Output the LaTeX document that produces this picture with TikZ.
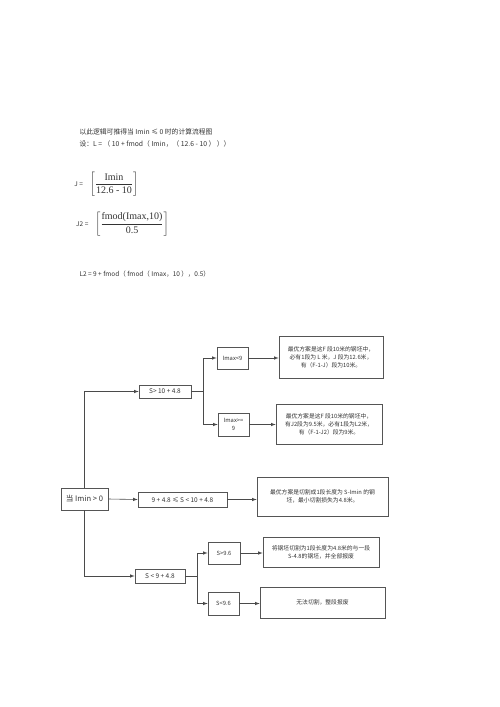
\documentclass[tikz,border=0pt]{standalone}
\usepackage{amsmath}
\usepackage{fontspec}
\setmainfont{Liberation Serif}
\newfontfamily\cjk{Noto Sans CJK SC}
\usetikzlibrary{positioning}
\definecolor{txtgray}{HTML}{333333}
\definecolor{boxgray}{HTML}{555555}
\definecolor{linegray}{HTML}{4A4A4A}

\begin{document}
\begin{tikzpicture}[x=1pt, y=-1pt,
                      every node/.style = {text=txtgray,
                        font=\cjk\fontsize{5.8}{8}\selectfont},
                      box/.style = {shape=rectangle, draw=boxgray,
                        line width=0.6pt, inner sep=1pt, align=center},
                      cond/.style = {box, font=\cjk\fontsize{6.5}{8}\selectfont},
                      link/.style = {draw=linegray, line width=0.6pt},
                      arr/.style = {link, -latex}]
                      \useasboundingbox[fill=white] (0,0) rectangle (500,707);
                      % notes above the chart
                      \node[anchor=west, font=\cjk\fontsize{6.8}{9}\selectfont] (title) at (76,132)
                        {以此逻辑可推得当 Imin ≤ 0 时的计算流程图};
                      \node[anchor=west, font=\cjk\fontsize{6.8}{9}\selectfont] (defL) at (76,144)
                        {设：L = （ 10 + fmod（ Imin，（ 12.6 - 10 ） ））};
                      \node[font=\fontsize{10}{12}\selectfont, inner sep=0pt] (Jfrac) at (114,184.5)
                        {$\left[\dfrac{\text{Imin}}{\text{12.6 - 10}}\right]$};
                      \node[left=3pt of Jfrac, font=\cjk\fontsize{6.5}{8}\selectfont] (Jlab) {J =};
                      \node[font=\fontsize{10}{12}\selectfont, inner sep=0pt] (Jtwofrac) at (132,224)
                        {$\left[\dfrac{\text{fmod(Imax,10)}}{\text{0.5}}\right]$};
                      \node[left=3pt of Jtwofrac, font=\cjk\fontsize{6.5}{8}\selectfont] (Jtwolab) {J2 =};
                      \node[anchor=west, font=\cjk\fontsize{6.5}{9}\selectfont] (defLtwo) at (76,274)
                        {L2 = 9 + fmod（ fmod（ Imax，10 ），0.5）};
                      % the chart
                      \node[cond, minimum width=47, minimum height=22,
                        font=\cjk\fontsize{7.6}{9}\selectfont] (root) at (84.5,499) {当 Imin > 0};
                      \node[cond, minimum width=52, minimum height=13] (big) at (165,391.5) {S> 10 + 4.8};
                      \node[cond, minimum width=89, minimum height=15] (mid) at (182.5,499.5) {9 + 4.8 ≤ S < 10 + 4.8};
                      \node[cond, minimum width=50, minimum height=14] (small) at (160,576) {S < 9 + 4.8};
                      \node[box, minimum width=31, minimum height=22] (maxlo) at (232.5,358) {Imax<9};
                      \node[box, minimum width=31, minimum height=23] (maxhi) at (233.5,424.5) {Imax>=\\9};
                      \node[box, minimum width=32, minimum height=22] (sixhi) at (224,553) {S>9.6};
                      \node[box, minimum width=31, minimum height=23] (sixlo) at (223.5,603.5) {S<9.6};
                      \node[box, minimum width=104, minimum height=42] (resA) at (331,357)
                        {最优方案是这F 段10米的钢坯中，\\必有1段为 L 米，J 段为12.6米，\\有（F-1-J）段为10米。};
                      \node[box, minimum width=106, minimum height=40] (resB) at (329,424)
                        {最优方案是这F 段10米的钢坯中，\\有J2段为9.5米，必有1段为L2米，\\有（F-1-J2）段为9米。};
                      \node[box, minimum width=131, minimum height=39] (resC) at (322.5,496.5)
                        {最优方案是切割成1段长度为 S-Imin 的钢\\坯，最小切割损失为4.8米。};
                      \node[box, minimum width=116, minimum height=30] (resD) at (321,552)
                        {将钢坯切割为1段长度为4.8米的与一段\\S-4.8的钢坯，并全部报废};
                      \node[box, minimum width=125, minimum height=31] (resE) at (322.5,602.5)
                        {无法切割，整段报废};
                      \coordinate (forkA) at (203,391.5);
                      \coordinate (forkB) at (197,576);
                      % connectors
                      \draw[arr] (root.north) |- (big.west);
                      \draw[arr] (root.east) -- (mid.west);
                      \draw[arr] (root.south) |- (small.west);
                      \draw[link] (big.east) -- (forkA);
                      \draw[arr] (forkA) |- (maxlo.west);
                      \draw[arr] (forkA) |- (maxhi.west);
                      \draw[link] (small.east) -- (forkB);
                      \draw[arr] (forkB) |- (sixhi.west);
                      \draw[arr] (forkB) |- (sixlo.west);
                      \draw[arr] (maxlo.east) -- (maxlo.east -| resA.west);
                      \draw[arr] (maxhi.east) -- (maxhi.east -| resB.west);
                      \draw[arr] (mid.east) -- (mid.east -| resC.west);
                      \draw[arr] (sixhi.east) -- (sixhi.east -| resD.west);
                      \draw[arr] (sixlo.east) -- (sixlo.east -| resE.west);
                    \end{tikzpicture}
\end{document}
